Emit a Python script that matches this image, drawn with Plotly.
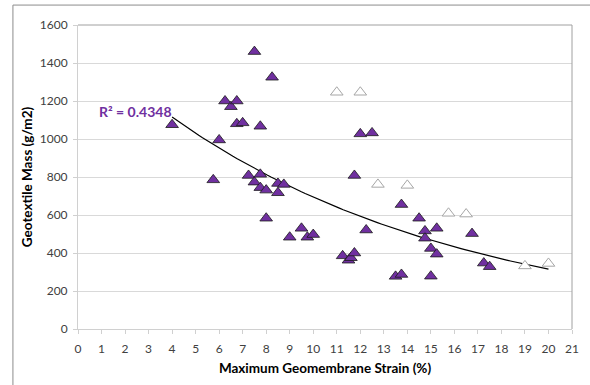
import numpy as np
import plotly.graph_objects as go

# Filled (purple) data points
strain_filled = [4.0, 5.75, 6.0, 6.25, 6.5, 6.75, 6.75, 7.0, 7.25, 7.5, 7.5, 7.75, 7.75, 7.75,
                 8.0, 8.0, 8.25, 8.5, 8.5, 8.75, 9.0, 9.5, 9.75, 10.0, 11.25, 11.5, 11.6,
                 11.75, 11.75, 12.0, 12.25, 12.5, 13.5, 13.75, 13.75, 14.5, 14.75, 14.75,
                 15.0, 15.0, 15.25, 15.25, 16.75, 17.25, 17.5]
mass_filled = [1075, 785, 995, 1200, 1170, 1200, 1080, 1085, 808, 1460, 773, 1067, 814, 744,
               731, 583, 1325, 766, 717, 761, 483, 530, 483, 497, 385, 362, 375,
               400, 808, 1027, 521, 1032, 277, 287, 655, 583, 516, 478,
               424, 278, 530, 394, 502, 347, 328]

# Hollow (open) data points
strain_open = [11.0, 12.0, 12.75, 14.0, 15.75, 16.5, 19.0, 20.0]
mass_open = [1246, 1246, 761, 756, 609, 605, 332, 345]

# Exponential trendline parameters (y = a * exp(b * x))
trend_a = 1530
trend_b = -0.079
trend_x_start = 4.0
trend_x_end = 20.0
r2_label = "R² = 0.4348"

x_ticks = list(range(0, 22))
y_ticks = list(range(0, 1601, 200))

tx = np.linspace(trend_x_start, trend_x_end, 100)
ty = trend_a * np.exp(trend_b * tx)

font_family = "Lato, 'Open Sans', sans-serif"
purple = "#7030A0"

fig = go.Figure()
fig.add_trace(go.Scatter(x=tx, y=ty, mode="lines", line=dict(color="#000000", width=1.2),
                         hoverinfo="skip", showlegend=False))
fig.add_trace(go.Scatter(x=strain_filled, y=mass_filled, mode="markers",
                         marker=dict(symbol="triangle-up", size=11, color=purple,
                                     line=dict(color="#1a1a1a", width=0.8)),
                         showlegend=False))
fig.add_trace(go.Scatter(x=strain_open, y=mass_open, mode="markers",
                         marker=dict(symbol="triangle-up", size=11, color="white",
                                     line=dict(color="#A6A6A6", width=1)),
                         showlegend=False))

fig.add_annotation(x=2.45, y=1144, text="<b>" + r2_label + "</b>", showarrow=False,
                   font=dict(family=font_family, size=14, color=purple), xref="x", yref="y")

# Chart area border (outer)
fig.add_shape(type="rect", xref="paper", yref="paper", x0=-66/501, x1=1.1, y0=-0.3, y1=(330-5)/305,
              line=dict(color="#8C8C8C", width=1), layer="below")
# Plot area border top/right
fig.add_shape(type="line", xref="paper", yref="paper", x0=0, x1=1, y0=1, y1=1,
              line=dict(color="#A0A0A0", width=1))
fig.add_shape(type="line", xref="paper", yref="paper", x0=1, x1=1, y0=0, y1=1,
              line=dict(color="#A0A0A0", width=1))

fig.update_layout(
    width=590, height=385,
    margin=dict(l=78, r=11, t=25, b=55),
    paper_bgcolor="white", plot_bgcolor="white",
    font=dict(family=font_family, size=12, color="#404040"),
    xaxis=dict(range=[0, 21], tickmode="array", tickvals=x_ticks, ticktext=[str(v) for v in x_ticks],
               showgrid=False, showline=True, linecolor="#D0D0D0", linewidth=1,
               ticks="outside", ticklen=4, tickcolor="#D0D0D0", ticklabelstandoff=5,
               tickfont=dict(family=font_family, size=12, color="#404040"),
               title=dict(text="<b>Maximum Geomembrane Strain (%)</b>", standoff=8,
                          font=dict(family=font_family, size=13.5, color="#000000")),
               zeroline=False),
    yaxis=dict(range=[0, 1600], tickmode="array", tickvals=y_ticks, ticktext=[str(v) for v in y_ticks],
               showgrid=True, gridcolor="#D9D9D9", gridwidth=1,
               showline=True, linecolor="#D0D0D0", linewidth=1,
               ticks="outside", ticklen=4, tickcolor="#D0D0D0", ticklabelstandoff=3,
               tickfont=dict(family=font_family, size=12, color="#404040"),
               title=dict(text="<b>Geotextile Mass (g/m2)</b>", standoff=4,
                          font=dict(family=font_family, size=13.5, color="#000000")),
               zeroline=False),
)

fig.write_html("out.html")
